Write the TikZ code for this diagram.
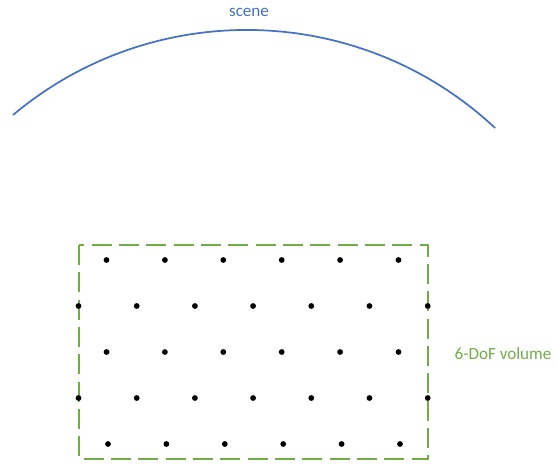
\documentclass[tikz,border=0pt]{standalone}
\usepackage{fontspec}
\setmainfont{Carlito}
\usetikzlibrary{positioning}
\definecolor{sceneblue}{HTML}{4472C4}
\definecolor{volgreen}{HTML}{70AD47}

\begin{document}
\begin{tikzpicture}[
    x=0.75pt, y=-0.75pt,
    every node/.style={font=\fontsize{12.8}{15}\selectfont, align=center},
    sample/.style={fill=black},
    volume/.style={draw=volgreen, line width=2.2pt, dash pattern=on 15pt off 5.5pt}
]
    \useasboundingbox (0,0) rectangle (558,465);

    % Scene arc
    \coordinate (centre) at (246.7,393.6);
    \draw[sceneblue, line width=1.3pt] (13,115) arc[start angle=-130, end angle=-46.9, radius=363.6];
    \node[text=sceneblue] (scene) at (249,12) {scene};

    % 6-DoF volume
    \draw[volume] (79,245) rectangle (428,459);
    \node[text=volgreen, anchor=west] (volume) at (450,354) {6-DoF volume};

    % Sample positions
    \foreach \yy/\xs in {260/106.5,352/106.5,444/108}
        \foreach \i in {0,...,5}
            \fill[sample] (\xs+58.4*\i,\yy) circle[radius=2.9];
    \foreach \yy in {306,398}
        \foreach \i in {0,...,6}
            \fill[sample] (78.5+58.2*\i,\yy) circle[radius=2.9];
\end{tikzpicture}
\end{document}
